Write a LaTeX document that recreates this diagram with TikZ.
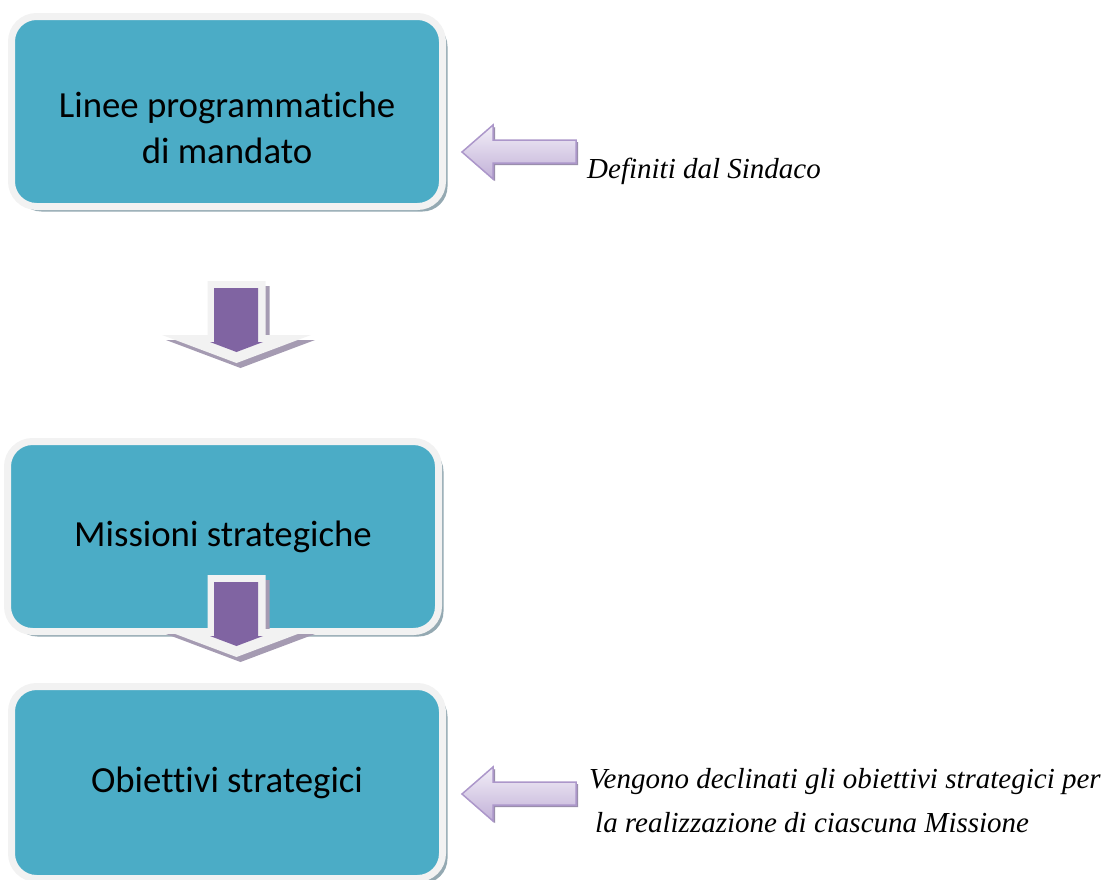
\documentclass[tikz,border=0pt]{standalone}
\usepackage{fontspec}
\setmainfont{Liberation Serif}
\newfontfamily\boxfont{Carlito}[Ligatures=NoCommon]
\usetikzlibrary{shadows}

\definecolor{tealbox}{HTML}{4BACC6}
\definecolor{rim}{HTML}{F2F2F2}
\definecolor{boxshade}{HTML}{94A9B2}
\definecolor{lila}{HTML}{8064A2}
\definecolor{lilashade}{HTML}{A59BB2}
\definecolor{lavlight}{HTML}{F2EEF7}
\definecolor{lavdark}{HTML}{C2B1D8}
\definecolor{lavline}{HTML}{AC97CA}

\tikzset{
	box/.style={draw=rim, line width=7pt, fill=tealbox, rounded corners=25pt, minimum width=431pt, minimum height=190pt, inner sep=0pt, align=center, font=\boxfont\fontsize{36.8}{46}\selectfont, drop shadow={shadow xshift=5pt, shadow yshift=-5pt, fill=boxshade, opacity=1}},
	boxtext/.style={inner sep=0pt, align=center, font=\boxfont\fontsize{36.8}{46}\selectfont},
	note/.style={font=\itshape\fontsize{29}{44}\selectfont, align=left, inner sep=0pt},
	downrim/.style={fill=rim, drop shadow={shadow xshift=4pt, shadow yshift=-5pt, fill=lilashade, opacity=1}},
	downfill/.style={fill=lila},
	backarrow/.style={draw=lavline, line width=1.5pt, line join=miter, top color=lavlight, bottom color=lavdark, drop shadow={shadow xshift=2pt, shadow yshift=-2pt, fill=lavline!60!gray, opacity=1}}
}

\begin{document}
\begin{tikzpicture}[x=1pt, y=-1pt]

	\useasboundingbox (0,0) rectangle (1103,879);

	% boxes
	\node[box](linee) at (227,111.5) {};
	\node[boxtext](linee_text) at (227,128) {Linee programmatiche\\di mandato};
	\node[box](missioni) at (223,536.5) {Missioni strategiche};
	\node[box, minimum height=192pt](obiettivi) at (227,782.5) {Obiettivi strategici};

	% down arrow 1
	\path[downrim] (207.5,281) -- (265.5,281) -- (265.5,335) -- (311,335) -- (236.5,363) -- (162,335) -- (207.5,335) -- cycle;
	\path[downfill] (214,288) -- (258,288) -- (258,342) -- (263,342) -- (236.5,352) -- (210,342) -- (214,342) -- cycle;

	% down arrow 2
	\path[downrim] (207.5,575) -- (265.5,575) -- (265.5,629) -- (311,629) -- (236.5,657) -- (162,629) -- (207.5,629) -- cycle;
	\path[downfill] (214,582) -- (258,582) -- (258,636) -- (263,636) -- (236.5,646) -- (210,636) -- (214,636) -- cycle;

	% left arrows
	\draw[backarrow] (462,152) -- (493,125) -- (493,140) -- (576,140) -- (576,163) -- (493,163) -- (493,179) -- cycle;
	\draw[backarrow] (462,794) -- (493,767) -- (493,782) -- (576,782) -- (576,805) -- (493,805) -- (493,821) -- cycle;

	% notes
	\node[note, anchor=base west](sindaco) at (587,178) {Definiti dal Sindaco};
	\node[note, anchor=west](declinati) at (589,801) {Vengono declinati gli obiettivi strategici per\\\hspace*{6pt}la realizzazione di ciascuna Missione};

\end{tikzpicture}
\end{document}
